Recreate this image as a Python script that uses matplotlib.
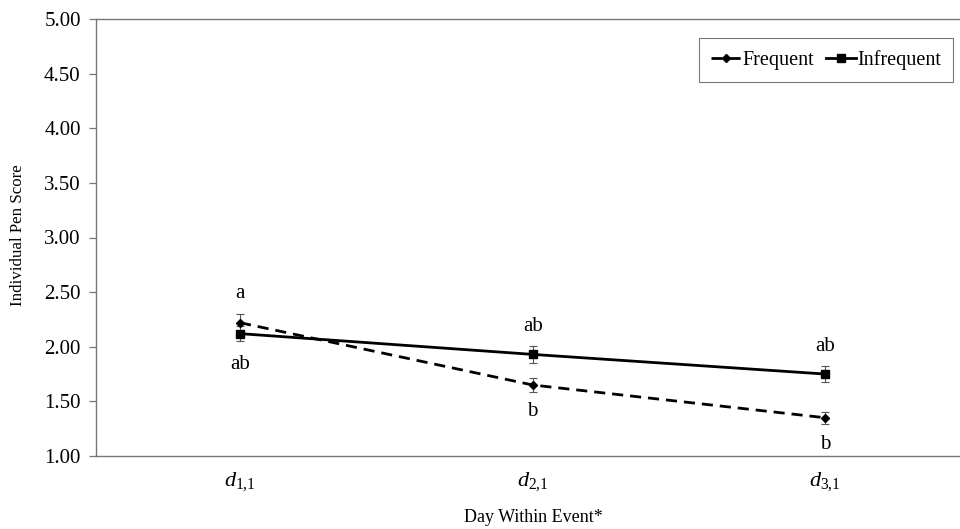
import matplotlib
matplotlib.use('Agg')
import matplotlib.pyplot as plt
import numpy as np

# ---- data ----
days = [r'$d_{1{,}1}$', r'$d_{2{,}1}$', r'$d_{3{,}1}$']
frequent = [2.22, 1.65, 1.35]
frequent_err = [0.08, 0.065, 0.055]
infrequent = [2.12, 1.93, 1.75]
infrequent_err = [0.07, 0.075, 0.07]
frequent_letters = ['a', 'b', 'b']
infrequent_letters = ['ab', 'ab', 'ab']
yticks = [1.0, 1.5, 2.0, 2.5, 3.0, 3.5, 4.0, 4.5, 5.0]

plt.rcParams['font.family'] = ['Liberation Serif', 'DejaVu Serif']
plt.rcParams['mathtext.fontset'] = 'custom'
plt.rcParams['mathtext.rm'] = 'Liberation Serif'
plt.rcParams['mathtext.it'] = 'Liberation Serif:italic'

fig = plt.figure(figsize=(9.6, 5.29), dpi=100)
ax = fig.add_axes([96 / 960, 73 / 529, (960 - 96) / 960, 437 / 529])

x = np.arange(len(days))

# error bars (thin, grey)
ax.errorbar(x, frequent, yerr=frequent_err, fmt='none', ecolor='#555555',
            elinewidth=0.8, capsize=3, capthick=0.8, zorder=2)
ax.errorbar(x, infrequent, yerr=infrequent_err, fmt='none', ecolor='#555555',
            elinewidth=0.8, capsize=3, capthick=0.8, zorder=2)

ax.plot(x, frequent, color='black', linestyle=(0, (4, 2.5)), linewidth=2.0,
        marker='D', markersize=4.5, label='Frequent', zorder=3)
ax.plot(x, infrequent, color='black', linestyle='-', linewidth=2.0,
        marker='s', markersize=6, label='Infrequent', zorder=3)

# significance letters: higher series gets its letter above, lower below
for i in range(len(x)):
    if frequent[i] >= infrequent[i]:
        f_off, i_off = 21, -22
    else:
        f_off, i_off = -19, 20
    ax.annotate(frequent_letters[i], (x[i], frequent[i]), xytext=(0, f_off),
                textcoords='offset points', ha='center', va='center', fontsize=15)
    ax.annotate(infrequent_letters[i], (x[i], infrequent[i]), xytext=(0, i_off),
                textcoords='offset points', ha='center', va='center', fontsize=15)

ax.set_xlim(-0.492, 2.46)
ax.set_ylim(1.0, 5.0)
ax.set_yticks(yticks)
ax.set_yticklabels([f'{v:.2f}' for v in yticks], fontsize=15)
ax.set_xticks(x)
ax.set_xticklabels(days, fontsize=16)
ax.tick_params(axis='x', length=0, pad=10)
ax.tick_params(axis='y', length=5, width=0.9, color='#777777', pad=6)

for side in ['left', 'bottom', 'top']:
    ax.spines[side].set_color('#777777')
    ax.spines[side].set_linewidth(1.0)
ax.spines['right'].set_visible(False)

fig.text(18 / 960, 0.556, 'Individual Pen Score', rotation=90,
         ha='center', va='center', fontsize=12.2)
fig.text(533 / 960, 11 / 529, 'Day Within Event*', ha='center', va='center',
         fontsize=13)

leg = ax.legend(loc='upper right', bbox_to_anchor=(0.992, 0.9565), ncol=2,
                fontsize=14.5, frameon=True, fancybox=False, edgecolor='#555555',
                handlelength=1.5, handletextpad=0.05, columnspacing=0.6,
                borderpad=0.6, borderaxespad=0.0)
leg.get_frame().set_linewidth(0.8)

fig.savefig('out.png', dpi=100)
